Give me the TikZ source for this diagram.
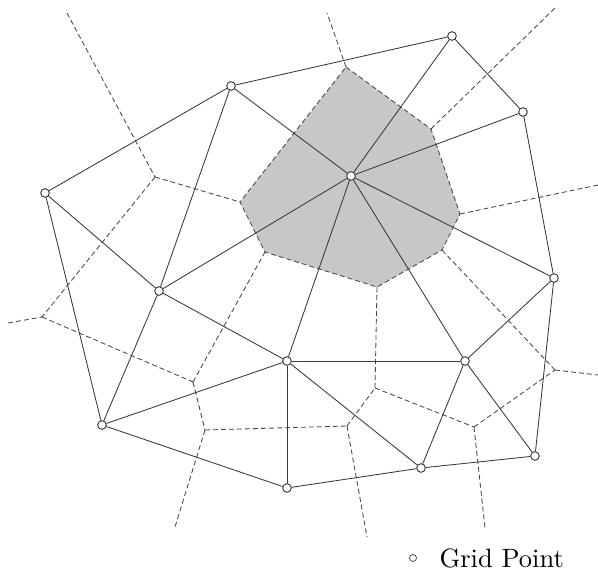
\documentclass[tikz,border=0pt]{standalone}
\begin{document}
\begin{tikzpicture}[x=1pt,y=-1pt,
  edge/.style={draw=black!78,line width=0.85pt},
  vor/.style={draw=black!72,line width=0.85pt,dash pattern=on 5pt off 3pt},
  cell/.style={fill=black!22},
  gp/.style={circle,draw=black!78,fill=white,line width=0.8pt,inner sep=0pt,minimum size=8.5pt},
  lgp/.style={circle,draw=black!78,fill=white,line width=0.7pt,inner sep=0pt,minimum size=7pt}]
\useasboundingbox (0,0) rectangle (598,573);
% Voronoi vertices
\coordinate (P1) at (346,67);
\coordinate (P2) at (431,129);
\coordinate (P3) at (460,214);
\coordinate (P4) at (442,250);
\coordinate (P5) at (377,287);
\coordinate (P6) at (265,252);
\coordinate (P7) at (240,202);
\coordinate (V1) at (155,177);
\coordinate (V2) at (42,317);
\coordinate (V3) at (193,382);
\coordinate (V4) at (205,430);
\coordinate (V5) at (347,426);
\coordinate (V6) at (375,388);
\coordinate (V7) at (474,427);
\coordinate (V8) at (555,370);
% free ends
\coordinate (e1) at (67,13);
\coordinate (e2) at (8,323);
\coordinate (e3) at (327,13);
\coordinate (e4) at (555,8);
\coordinate (e5) at (598,185);
\coordinate (e6) at (598,375);
\coordinate (e7) at (485,528);
\coordinate (e8) at (367,537);
\coordinate (e9) at (175,527);
% shaded cell
\fill[cell] (P1) -- (P2) -- (P3) -- (P4) -- (P5) -- (P6) -- (P7) -- cycle;
\draw[vor] (P1) -- (P2) -- (P3) -- (P4) -- (P5) -- (P6) -- (P7) -- cycle;
% dashed Voronoi edges
\draw[vor] (e1) -- (V1);
\draw[vor] (V1) -- (P7);
\draw[vor] (V1) -- (V2);
\draw[vor] (e2) -- (V2);
\draw[vor] (V2) -- (V3);
\draw[vor] (V3) -- (P6);
\draw[vor] (V3) -- (V4);
\draw[vor] (V4) -- (V5);
\draw[vor] (V4) -- (e9);
\draw[vor] (V5) -- (V6);
\draw[vor] (V5) -- (e8);
\draw[vor] (V6) -- (P5);
\draw[vor] (V6) -- (V7);
\draw[vor] (V7) -- (V8);
\draw[vor] (V7) -- (e7);
\draw[vor] (P4) -- (V8);
\draw[vor] (V8) -- (e6);
\draw[vor] (P3) -- (e5);
\draw[vor] (P2) -- (e4);
\draw[vor] (P1) -- (e3);
% grid points
\node[gp] (A) at (452,36) {};
\node[gp] (B) at (523,112) {};
\node[gp] (C) at (351,176) {};
\node[gp] (D) at (231,86) {};
\node[gp] (E) at (45,193) {};
\node[gp] (F) at (159,291) {};
\node[gp] (G) at (287,361) {};
\node[gp] (H) at (465,361) {};
\node[gp] (I) at (554,278) {};
\node[gp] (J) at (102,425) {};
\node[gp] (K) at (287,488) {};
\node[gp] (L) at (421,468) {};
\node[gp] (M) at (535,456) {};
% triangulation
\draw[edge] (D) -- (A);
\draw[edge] (A) -- (B);
\draw[edge] (A) -- (C);
\draw[edge] (B) -- (C);
\draw[edge] (B) -- (I);
\draw[edge] (C) -- (D);
\draw[edge] (C) -- (F);
\draw[edge] (C) -- (G);
\draw[edge] (C) -- (H);
\draw[edge] (C) -- (I);
\draw[edge] (E) -- (D);
\draw[edge] (E) -- (F);
\draw[edge] (E) -- (J);
\draw[edge] (D) -- (F);
\draw[edge] (F) -- (J);
\draw[edge] (F) -- (G);
\draw[edge] (J) -- (G);
\draw[edge] (J) -- (K);
\draw[edge] (G) -- (K);
\draw[edge] (G) -- (L);
\draw[edge] (G) -- (H);
\draw[edge] (H) -- (I);
\draw[edge] (H) -- (L);
\draw[edge] (H) -- (M);
\draw[edge] (I) -- (M);
\draw[edge] (M) -- (L);
\draw[edge] (L) -- (K);
% redraw grid points on top
\foreach \n in {A,B,C,D,E,F,G,H,I,J,K,L,M}{
  \node[gp] at (\n) {};
}
% legend
\node[lgp] (lg) at (413,558) {};
\node[anchor=base west,scale=2.65,inner sep=0pt] (lt) at (439,567) {Grid Point};
\end{tikzpicture}
\end{document}
